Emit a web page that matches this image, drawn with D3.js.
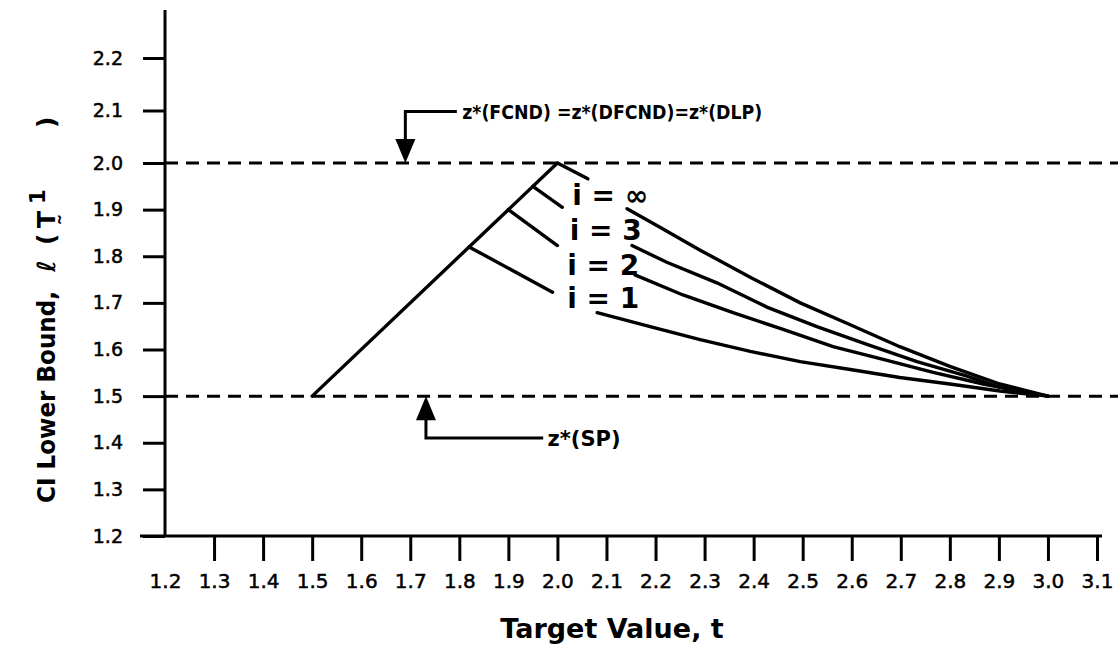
<!DOCTYPE html>
<html>
<head>
<meta charset="utf-8">
<script src="https://cdn.jsdelivr.net/npm/d3@7"></script>
<style>
  html, body { margin: 0; padding: 0; background: #fff; }
  text { font-family: "DejaVu Sans", sans-serif; fill: #000; }
</style>
</head>
<body>
<script>
// ---------- data ----------
const xTicks = [1.2,1.3,1.4,1.5,1.6,1.7,1.8,1.9,2.0,2.1,2.2,2.3,2.4,2.5,2.6,2.7,2.8,2.9,3.0,3.1];
const yTicks = [1.2,1.3,1.4,1.5,1.6,1.7,1.8,1.9,2.0,2.1,2.2];
const refLevels = [2.0, 1.5];            // z*(FCND)=..., z*(SP)
const riseLine = [[1.5, 1.5], [2.0, 2.0]];

const seriesNames = ["i = \u221E", "i = 3", "i = 2", "i = 1"];
// head segments (before label), tail segments (after label)
const headInf = [[2.0, 2.0], [2.062, 1.966]];
const tailInf = [[2.142,1.902],[2.209,1.862],[2.291,1.813],[2.393,1.755],[2.495,1.700],[2.597,1.653],[2.698,1.606],[2.800,1.564],[2.902,1.526],[3.0,1.5]];
const head3 = [[1.95, 1.95], [2.01, 1.905]];
const tail3 = [[2.152,1.823],[2.223,1.787],[2.325,1.743],[2.427,1.691],[2.529,1.649],[2.631,1.611],[2.733,1.574],[2.835,1.543],[2.902,1.519],[3.0,1.5]];
const head2 = [[1.90, 1.90], [2.0, 1.823]];
const tail2 = [[2.158,1.760],[2.256,1.717],[2.358,1.679],[2.460,1.643],[2.562,1.606],[2.664,1.579],[2.766,1.551],[2.868,1.526],[3.0,1.5]];
const head1 = [[1.82, 1.82], [1.99, 1.723]];
const tail1 = [[2.081,1.679],[2.189,1.649],[2.291,1.621],[2.393,1.596],[2.495,1.574],[2.597,1.557],[2.698,1.540],[2.800,1.526],[2.902,1.511],[3.0,1.5]];

const xTitle = "Target Value, t";
const yTitleMain = "CI Lower Bound,";
const topNote = "z*(FCND) =z*(DFCND)=z*(DLP)";
const bottomNote = "z*(SP)";

// ---------- layout ----------
const W = 1120, H = 655;
const svg = d3.select("body").append("svg").attr("width", W).attr("height", H);
const x = d3.scaleLinear().domain([1.2, 3.1]).range([165, 1097]);
// hand-drawn axis: slightly wider spacing above 2.0
const y = d3.scaleLinear().domain([1.2, 2.0, 2.2]).range([536, 163, 58]);
const line = d3.line().x(d => x(d[0])).y(d => y(d[1]));
const SW = 3;

// reference dashed lines
svg.selectAll("line.ref").data(refLevels).join("line")
  .attr("x1", x(1.2)).attr("x2", 1118)
  .attr("y1", d => y(d)).attr("y2", d => y(d))
  .attr("stroke", "#000").attr("stroke-width", SW).attr("stroke-dasharray", "13,8");

// x axis
const xAxis = d3.axisBottom(x).tickValues(xTicks).tickSize(25).tickSizeOuter(0).tickPadding(13)
  .tickFormat(d3.format(".1f"));
const gx = svg.append("g").attr("transform", `translate(0,${y(1.2)})`).call(xAxis);
gx.select(".domain").remove();
gx.selectAll(".tick line").attr("stroke-width", SW).attr("stroke", "#000")
  .filter(d => d === 1.2).remove();
gx.selectAll(".tick text").attr("font-size", 20).attr("font-family", "DejaVu Sans, sans-serif")
  .attr("fill", "#000").attr("stroke", "#000").attr("stroke-width", 0.5);
svg.append("line").attr("x1", 140).attr("x2", 1102).attr("y1", y(1.2)).attr("y2", y(1.2))
  .attr("stroke", "#000").attr("stroke-width", SW);

// y axis
const yAxis = d3.axisLeft(y).tickValues(yTicks).tickSize(22).tickSizeOuter(0).tickPadding(20)
  .tickFormat(d3.format(".1f"));
const gy = svg.append("g").attr("transform", `translate(${x(1.2)},0)`).call(yAxis);
gy.select(".domain").remove();
gy.selectAll(".tick line").attr("stroke-width", SW).attr("stroke", "#000");
gy.selectAll(".tick text").attr("font-size", 19).attr("font-family", "DejaVu Sans, sans-serif")
  .attr("fill", "#000").attr("stroke", "#000").attr("stroke-width", 0.5);
svg.append("line").attr("x1", x(1.2)).attr("x2", x(1.2)).attr("y1", 10).attr("y2", y(1.2))
  .attr("stroke", "#000").attr("stroke-width", SW);

// curves
const segs = [riseLine, headInf, tailInf, head3, tail3, head2, tail2, head1, tail1];
svg.selectAll("path.curve").data(segs).join("path")
  .attr("d", line).attr("fill", "none").attr("stroke", "#000")
  .attr("stroke-width", 3.4).attr("stroke-linecap", "round");

// curve labels
const labelX = [2.03, 2.025, 2.02, 2.02];
const labelBase = [205, 240, 275, 308];
svg.selectAll("text.lab").data(seriesNames).join("text")
  .attr("x", (d, i) => x(labelX[i])).attr("y", (d, i) => labelBase[i])
  .attr("font-family", "Liberation Sans, Arial, sans-serif")
  .attr("font-size", 28).attr("font-weight", "bold").text(d => d);

// top annotation arrow
const ax1 = x(1.69), ay1 = y(2.1) + 1;
svg.append("path").attr("d", `M${x(1.795)},${ay1} H${ax1} V${y(2.0) - 20}`)
  .attr("fill", "none").attr("stroke", "#000").attr("stroke-width", SW);
svg.append("path").attr("d", `M${ax1 - 10},${y(2.0) - 24} L${ax1 + 10},${y(2.0) - 24} L${ax1},${y(2.0)} Z`)
  .attr("fill", "#000");
svg.append("text").attr("x", x(1.806)).attr("y", ay1 + 7).attr("font-size", 19).attr("font-weight", "bold")
  .attr("textLength", 300).attr("lengthAdjust", "spacingAndGlyphs").text(topNote);

// bottom annotation arrow
const ax2 = x(1.732), ay2 = y(1.41);
svg.append("path").attr("d", `M${x(1.971)},${ay2} H${ax2} V${y(1.5) + 20}`)
  .attr("fill", "none").attr("stroke", "#000").attr("stroke-width", SW);
svg.append("path").attr("d", `M${ax2 - 10},${y(1.5) + 24} L${ax2 + 10},${y(1.5) + 24} L${ax2},${y(1.5)} Z`)
  .attr("fill", "#000");
svg.append("text").attr("x", x(1.98)).attr("y", ay2 + 8).attr("font-size", 21).attr("font-weight", "bold").text(bottomNote);

// axis titles
svg.append("text").attr("x", 612).attr("y", 638).attr("text-anchor", "middle")
  .attr("font-size", 27).attr("font-weight", "bold").text(xTitle);

// y title, rotated; x in rotated frame = -screenY
const gyt = svg.append("g").attr("transform", "translate(55,0) rotate(-90)")
  .attr("font-weight", "bold");
gyt.append("text").attr("x", -503).attr("font-size", 25)
  .attr("textLength", 212).attr("lengthAdjust", "spacingAndGlyphs").text(yTitleMain);
gyt.append("text").attr("x", -272).attr("font-size", 25).attr("font-style", "italic").text("\u2113");
gyt.append("text").attr("x", -245).attr("font-size", 25).text("(");
gyt.append("text").attr("x", -228).attr("font-size", 25).text("T\u0330");
gyt.append("text").attr("x", -204).attr("y", -10).attr("font-size", 21).text("1");
gyt.append("text").attr("x", -128).attr("font-size", 25).text(")");
</script>
</body>
</html>
